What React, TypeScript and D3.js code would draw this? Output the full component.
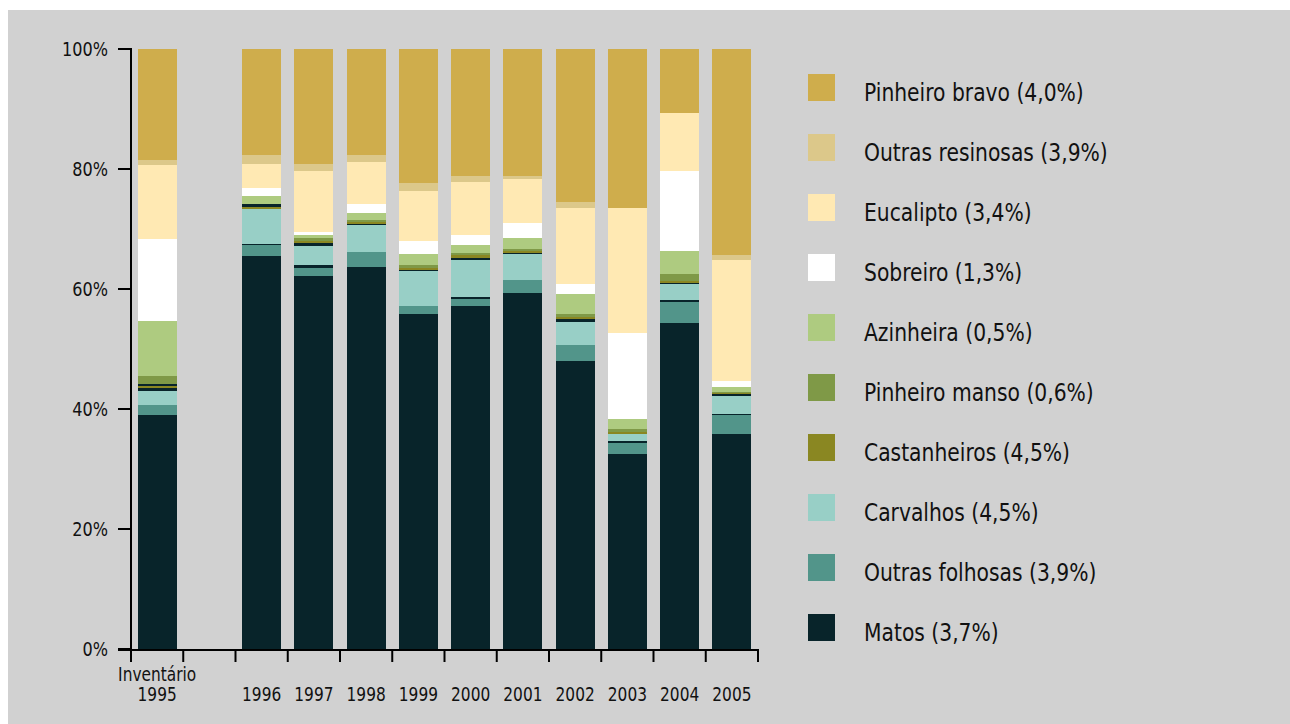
import React from 'react'
import * as d3 from 'd3'

// bars, left to right (the empty slot after the inventory is added below)
const bars = ['Inventário 1995', '1996', '1997', '1998', '1999', '2000', '2001', '2002', '2003', '2004', '2005']

// % of burnt area per class, one value per bar
const matos = [39.0, 65.5, 62.2, 63.7, 55.8, 57.2, 59.2, 48.0, 32.5, 54.3, 35.8]
const outrasFolhosas = [1.7, 1.7, 1.3, 2.5, 1.3, 1.2, 2.3, 2.7, 1.8, 3.5, 3.2]
const sepA = [0, 0.3, 0.5, 0, 0, 0.3, 0, 0, 0.3, 0.3, 0.2]
const carvalhos = [2.3, 5.8, 3.2, 4.5, 5.7, 6.2, 4.2, 3.8, 1.2, 2.7, 3.0]
const sepB = [0.5, 0, 0.5, 0.2, 0.3, 0.3, 0.3, 0.5, 0, 0.2, 0.3]
const castanheiros = [0.3, 0.3, 0.3, 0.3, 0.3, 0.5, 0.3, 0.3, 0.3, 0.3, 0.2]
const sepC = [0.3, 0.5, 0, 0, 0, 0, 0, 0, 0, 0, 0]
const pinheiroManso = [1.3, 0, 0.5, 0.3, 0.5, 0.3, 0.3, 0.5, 0.5, 1.2, 0.2]
const azinheira = [9.2, 1.3, 0.5, 1.2, 1.8, 1.3, 1.8, 3.3, 1.7, 3.8, 0.7]
const sobreiro = [13.7, 1.3, 0.5, 1.5, 2.2, 1.7, 2.5, 1.7, 14.3, 13.3, 1.0]
const eucalipto = [12.3, 4.0, 10.2, 7.0, 8.3, 8.8, 7.3, 12.7, 20.8, 9.7, 20.3]
const outrasResinosas = [0.8, 1.5, 1.2, 1.2, 1.3, 1.0, 0.5, 1.0, 0, 0, 0.8]
const pinheiroBravo = [18.5, 17.7, 19.2, 17.7, 22.3, 21.2, 21.2, 25.5, 26.5, 10.7, 34.3]

// legend, top to bottom
const legendNames = [
  'Pinheiro bravo (4,0%)', 'Outras resinosas (3,9%)', 'Eucalipto (3,4%)', 'Sobreiro (1,3%)',
  'Azinheira (0,5%)', 'Pinheiro manso (0,6%)', 'Castanheiros (4,5%)', 'Carvalhos (4,5%)',
  'Outras folhosas (3,9%)', 'Matos (3,7%)'
]
const legendColors = ['#cfad4c', '#dcc88a', '#ffe9b3', '#ffffff', '#aecb80', '#7f9947', '#8a8722', '#98cfc6', '#52958a', '#08242a']

const series: [string, number[], string][] = [
  ['matos', matos, '#08242a'],
  ['outrasFolhosas', outrasFolhosas, '#52958a'],
  ['sepA', sepA, '#08242a'],
  ['carvalhos', carvalhos, '#98cfc6'],
  ['sepB', sepB, '#08242a'],
  ['castanheiros', castanheiros, '#8a8722'],
  ['sepC', sepC, '#08242a'],
  ['pinheiroManso', pinheiroManso, '#7f9947'],
  ['azinheira', azinheira, '#aecb80'],
  ['sobreiro', sobreiro, '#ffffff'],
  ['eucalipto', eucalipto, '#ffe9b3'],
  ['outrasResinosas', outrasResinosas, '#dcc88a'],
  ['pinheiroBravo', pinheiroBravo, '#cfad4c'],
]

const FONT = "'DejaVu Sans Condensed', 'DejaVu Sans', sans-serif"

// narrow text: the original uses a condensed face, squeeze DejaVu a bit
function Txt(props: {x: number, y: number, size: number, sx: number, anchor?: string, baseline?: string, children: any}) {
  return (
    <text transform={`translate(${props.x},${props.y}) scale(${props.sx},1)`}
      fontSize={props.size} textAnchor={props.anchor || 'start'}
      dominantBaseline={props.baseline || 'auto'} fill="#111">{props.children}</text>
  )
}

export default function App() {
  const slots = [bars[0], 'vazio', ...bars.slice(1)]
  const x = d3.scaleBand().domain(slots).range([131, 758]).paddingInner(0.25).paddingOuter(0.125)
  const y = d3.scaleLinear().domain([0, 1]).range([649, 49])

  const table = bars.map((b, i) => {
    const row: any = {bar: b}
    series.forEach(([k, v]) => { row[k] = v[i] })
    return row
  })
  const keys = series.map(s => s[0])
  const stacked = d3.stack().keys(keys).offset(d3.stackOffsetExpand)(table)

  const step = x.step()
  const boundaries = d3.range(slots.length + 1).map(i => 131 + i * step)

  return (
    <svg width={1290} height={724} style={{position: 'absolute', left: 0, top: 0}} fontFamily={FONT}>
      <rect x={8} y={10} width={1282} height={714} fill="#d1d1d1" />

      {stacked.map((layer, li) => (
        <g key={layer.key} fill={series[li][2]}>
          {layer.map((d: any, i) => (
            <rect key={i} x={x(d.data.bar)} width={x.bandwidth()}
              y={y(d[1])} height={Math.max(0, y(d[0]) - y(d[1]))} shapeRendering="crispEdges" />
          ))}
        </g>
      ))}

      {/* y axis */}
      <line x1={131} x2={131} y1={48} y2={651} stroke="#000" strokeWidth={2} />
      {y.ticks(5).map(t => (
        <g key={t}>
          <line x1={118} x2={131} y1={y(t)} y2={y(t)} stroke="#000" strokeWidth={2} />
          <Txt x={108} y={y(t)} size={19} sx={0.94} anchor="end" baseline="central">{d3.format('.0%')(t)}</Txt>
        </g>
      ))}

      {/* x axis */}
      <line x1={118} x2={759} y1={650} y2={650} stroke="#000" strokeWidth={2} />
      {boundaries.map((b, i) => (
        <line key={i} x1={b} x2={b} y1={650} y2={662} stroke="#000" strokeWidth={2} />
      ))}
      {bars.map(b => {
        const lines = b.split(' ')
        const cx = (x(b) as number) + x.bandwidth() / 2
        return (
          <g key={b}>
            {lines.map((l, j) => (
              <Txt key={j} x={cx} y={701 - (lines.length - 1 - j) * 20} size={19} sx={0.9} anchor="middle">{l}</Txt>
            ))}
          </g>
        )
      })}

      {/* legend */}
      {legendNames.map((n, i) => (
        <g key={n} transform={`translate(808,${74 + i * 60})`}>
          <rect width={27} height={27} fill={legendColors[i]} />
          <Txt x={56} y={27} size={24} sx={0.94}>{n}</Txt>
        </g>
      ))}
    </svg>
  )
}
